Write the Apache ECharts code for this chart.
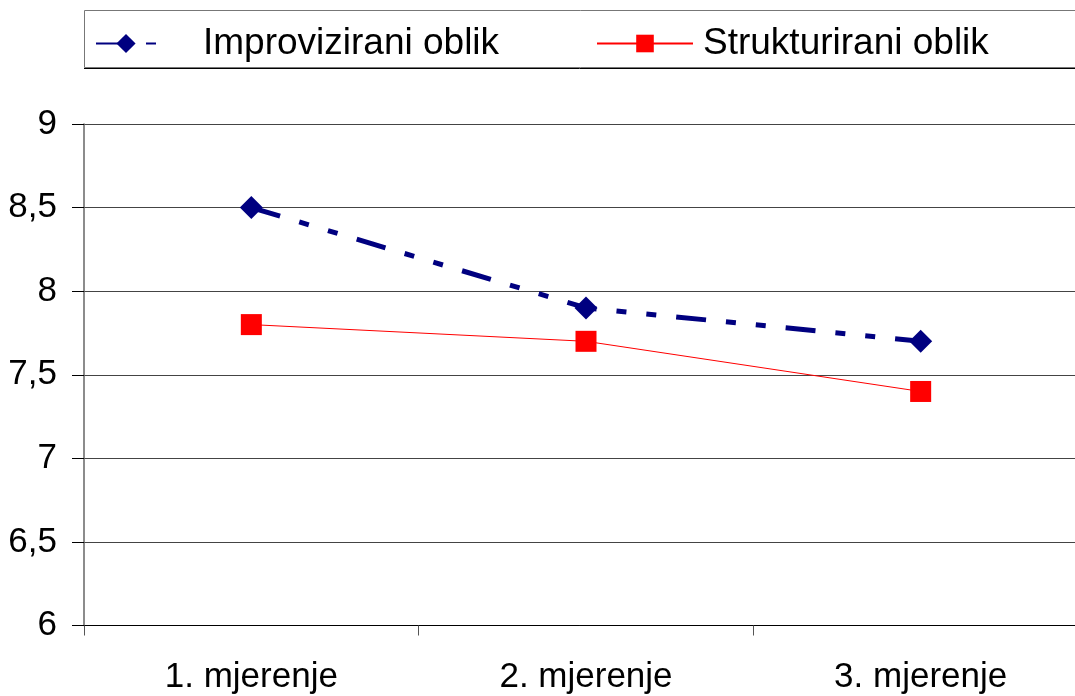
<!DOCTYPE html>
<html>
<head>
<meta charset="utf-8">
<script src="https://cdn.jsdelivr.net/npm/echarts@6/dist/echarts.min.js"></script>
<style>
  html, body { margin: 0; padding: 0; background: #fff; }
  #chart { width: 1075px; height: 696px; }
</style>
</head>
<body>
<div id="chart"></div>
<script>
// podaci
var categories = ['1. mjerenje', '2. mjerenje', '3. mjerenje'];
var improvizirani = [8.5, 7.9, 7.7];
var strukturirani = [7.8, 7.7, 7.4];
var seriesNames = ['Improvizirani oblik', 'Strukturirani oblik'];

var chart = echarts.init(document.getElementById('chart'));

var font = 'Liberation Sans, Arial, sans-serif';

var option = {
  animation: false,
  backgroundColor: '#fff',
  graphic: [
    {
      type: 'rect',
      shape: { x: 84.5, y: 10.5, width: 1010, height: 57 },
      style: { fill: 'none', stroke: '#777', lineWidth: 1 },
      z: -1
    },
    {
      type: 'line',
      shape: { x1: 84, y1: 68.5, x2: 1075, y2: 68.5 },
      style: { stroke: '#000', lineWidth: 1 },
      z: -1
    }
  ],
  legend: [
    {
      data: [seriesNames[0]],
      left: 90,
      top: 20,
      itemWidth: 60,
      itemHeight: 24,
      textStyle: { fontSize: 37, fontFamily: font, color: '#000', padding: [0, 0, 0, 42] }
    },
    {
      data: [seriesNames[1]],
      left: 591,
      top: 20,
      itemWidth: 96,
      itemHeight: 22,
      textStyle: { fontSize: 37, fontFamily: font, color: '#000', padding: [0, 0, 0, 5] }
    }
  ],
  grid: {
    left: 84,
    width: 1004,
    top: 124,
    bottom: 70.5,
    containLabel: false,
    outerBoundsMode: 'none'
  },
  xAxis: {
    type: 'category',
    data: categories,
    boundaryGap: true,
    axisLine: { lineStyle: { color: '#000', width: 1 } },
    axisTick: { show: true, length: 10, lineStyle: { color: '#555' } },
    axisLabel: { fontSize: 35, fontFamily: font, color: '#000', margin: 34 },
    splitLine: { show: false }
  },
  yAxis: {
    type: 'value',
    min: 6,
    max: 9,
    interval: 0.5,
    axisLine: { show: true, lineStyle: { color: '#666', width: 1.5 } },
    axisTick: { show: true, length: 12, lineStyle: { color: '#000' } },
    axisLabel: {
      fontSize: 35, fontFamily: font, color: '#000', margin: 27,
      formatter: function (v) { return String(v).replace('.', ','); }
    },
    splitLine: { show: true, lineStyle: { color: '#444', width: 1 } }
  },
  series: [
    {
      name: seriesNames[0],
      type: 'line',
      data: improvizirani,
      symbol: 'diamond',
      symbolSize: 23,
      itemStyle: { color: '#000080' },
      lineStyle: { color: '#000080', width: 5, type: [30, 20, 10, 20, 10, 20] },
      z: 3
    },
    {
      name: seriesNames[1],
      type: 'line',
      data: strukturirani,
      symbol: 'rect',
      symbolSize: 21,
      itemStyle: { color: '#ff0000' },
      lineStyle: { color: '#ff0000', width: 1 },
      z: 2
    }
  ]
};

chart.setOption(option);
</script>
</body>
</html>
